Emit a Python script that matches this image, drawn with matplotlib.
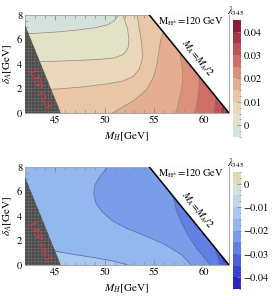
import numpy as np
import matplotlib.pyplot as plt
from matplotlib.colors import ListedColormap, BoundaryNorm
from matplotlib.cm import ScalarMappable
from matplotlib.ticker import MultipleLocator, FuncFormatter

plt.rcParams['font.family'] = 'STIXGeneral'
plt.rcParams['mathtext.fontset'] = 'stix'
plt.rcParams['hatch.linewidth'] = 0.4

# plot range and the two kinematic boundaries
mh_min, mh_max = 42, 62.5
delta_max = 8
m_z = 91.19          # LEP: M_H + M_A < M_Z excluded
m_h_half = 62.5      # M_A = M_h / 2

# ---------------- top panel: lambda_345 > 0 ----------------
top_bounds = [-0.005, 0, 0.005, 0.01, 0.015, 0.02, 0.025, 0.03, 0.035, 0.04, 0.045]
top_colors = ['#d3e3dc', '#e2e2c9', '#e9d8b9', '#e9c6a6', '#e4ae90',
              '#dc9178', '#d07064', '#c05154', '#a93444', '#8d1b35']
top_ticks = [0, 0.01, 0.02, 0.03, 0.04]

# contour curves (M_H, delta_A), one per level
top_c000_m = [41.5, 43, 45, 47, 49, 50.3, 51.0, 51.3, 51.4]
top_c000_d = [6.45, 6.5, 6.6, 6.75, 6.95, 7.2, 7.55, 7.9, 8.5]
top_c005_m = [41.5, 44, 47, 49.5, 51, 51.9, 52.35, 52.45, 52.3, 52.0, 51.7]
top_c005_d = [4.15, 4.2, 4.28, 4.38, 4.5, 4.8, 5.3, 6.0, 6.9, 7.6, 8.5]
top_c010_m = [44, 46, 48, 50, 51.8, 52.9, 53.5, 53.8, 53.75, 53.55, 53.35, 53.2]
top_c010_d = [1.9, 2.0, 2.15, 2.35, 2.6, 3.0, 3.6, 4.5, 5.5, 6.6, 7.6, 8.5]
top_c015_m = [50.2, 51.5, 53, 54.2, 54.9, 55.25, 55.45, 55.65, 56.3]
top_c015_d = [-0.3, 0.35, 1.05, 1.9, 2.9, 3.9, 5.0, 6.0, 7.5]
top_c020_m = [57.1, 57.4, 57.7, 57.85, 57.8, 57.6, 57.8]
top_c020_d = [-0.3, 0.8, 1.8, 2.8, 3.7, 4.6, 5.5]
top_c025_m = [59.0, 59.25, 59.45, 59.5, 59.45, 59.6]
top_c025_d = [-0.3, 0.8, 1.8, 2.6, 3.1, 3.8]
top_c030_m = [60.85, 61.0, 61.1, 61.1, 61.3]
top_c030_d = [-0.3, 0.5, 1.1, 1.45, 2.2]
top_c035_m = [61.55, 61.7, 61.78, 61.9]
top_c035_d = [-0.3, 0.4, 0.75, 1.5]
top_c040_m = [62.0, 62.1, 62.15, 62.3]
top_c040_d = [-0.3, 0.2, 0.35, 1.0]

# ---------------- bottom panel: lambda_345 < 0 ----------------
bot_bounds = [-0.045, -0.04, -0.035, -0.03, -0.025, -0.02, -0.015, -0.01, -0.005, 0, 0.005]
bot_colors = ['#2a24c6', '#3a40d2', '#4c5edb', '#6280e4', '#7a9de9',
              '#93b8ef', '#a7caee', '#bcd9eb', '#d1e3da', '#e2d8b6']
bot_ticks = [-0.04, -0.03, -0.02, -0.01, 0]

bot_c015_m = [44.5, 45.2, 47, 49, 51, 53.6]
bot_c015_d = [1.5, 1.1, 0.85, 0.6, 0.3, -0.3]
bot_c020_m = [50.7, 50.2, 49.5, 49.0, 48.9, 49.15, 49.8, 50.8, 52.2, 54, 56, 57.8, 59.0]
bot_c020_d = [8.5, 7.9, 7.2, 6.5, 5.8, 5.0, 4.3, 3.6, 3.0, 2.4, 1.7, 0.8, -0.3]
bot_c025_m = [56.5, 56.9, 57.2, 57.7, 58.4, 59.3, 60.2, 60.9]
bot_c025_d = [6.5, 5.5, 4.5, 3.5, 2.4, 1.3, 0.4, -0.3]
bot_c030_m = [60.9, 61.2, 61.5, 61.7]
bot_c030_d = [1.9, 1.0, 0.3, -0.3]
bot_c035_m = [61.6, 61.85, 62.05]
bot_c035_d = [1.1, 0.4, -0.3]
bot_c040_m = [62.1, 62.25, 62.35]
bot_c040_d = [0.6, 0.15, -0.3]

# corners closing a contour towards the bottom-right / top-left
close_low_right = [(70, 9), (70, -1), (41, -1)]
close_right = [(70, -1), (70, 9)]
close_left = [(41, -1), (41, 1.5)]

top_fills = [(top_c000_m, top_c000_d, top_colors[1], close_low_right),
             (top_c005_m, top_c005_d, top_colors[2], close_low_right),
             (top_c010_m, top_c010_d, top_colors[3], close_low_right),
             (top_c015_m, top_c015_d, top_colors[4], close_low_right),
             (top_c020_m, top_c020_d, top_colors[5], close_low_right),
             (top_c025_m, top_c025_d, top_colors[6], close_low_right),
             (top_c030_m, top_c030_d, top_colors[7], close_low_right),
             (top_c035_m, top_c035_d, top_colors[8], close_low_right),
             (top_c040_m, top_c040_d, top_colors[9], close_low_right)]

bot_fills = [(bot_c015_m, bot_c015_d, bot_colors[6], close_left),
             (bot_c020_m, bot_c020_d, bot_colors[4], close_right),
             (bot_c025_m, bot_c025_d, bot_colors[3], close_right),
             (bot_c030_m, bot_c030_d, bot_colors[2], close_right),
             (bot_c035_m, bot_c035_d, bot_colors[1], close_right),
             (bot_c040_m, bot_c040_d, bot_colors[0], close_right)]


def draw_panel(ax, base_color, fills, line_color):
    # background band
    ax.fill([41, 70, 70, 41], [-1, -1, 9, 9], color=base_color, lw=0, zorder=1)
    for m, d, col, corners in fills:
        xs = list(m) + [c[0] for c in corners]
        ys = list(d) + [c[1] for c in corners]
        ax.fill(xs, ys, color=col, lw=0, zorder=1)
    for m, d, col, corners in fills:
        ax.plot(m, d, color=line_color, lw=0.5, zorder=2)

    # region with M_A > M_h/2 left blank
    ax.fill([m_h_half - 9, m_h_half + 1, 70, 70, m_h_half - 9], [9, -1, -1, 10, 10],
            color='white', lw=0, zorder=3)
    mh_line = np.array([m_h_half - delta_max, m_h_half])
    ax.plot(mh_line, m_h_half - mh_line, color='black', lw=1.1, zorder=4)

    # LEP excluded triangle
    ax.fill([mh_min, m_z / 2, mh_min], [0, 0, m_z - 2 * mh_min],
            facecolor='#4b4b4b', edgecolor='#6e6e6e', hatch='+++++', lw=0, zorder=4)
    ax.text(43.55, 1.9, 'LEP excl.', color='#f0343c', fontsize=8, rotation=-67,
            ha='center', va='center', rotation_mode='anchor', zorder=5)

    ax.text(58.7, 7.5, r'M$_{\mathrm{H^{\pm}}}$=120 GeV', fontsize=7.5,
            ha='center', va='center', zorder=5)
    ax.text(59.3, 4.5, r'$M_A\!=\!M_h/2$', fontsize=7.5, rotation=-50.8,
            ha='center', va='center', rotation_mode='anchor', zorder=5)

    ax.set_xlim(mh_min, mh_max)
    ax.set_ylim(0, delta_max)
    ax.set_xticks([45, 50, 55, 60])
    ax.set_yticks([0, 2, 4, 6, 8])
    ax.xaxis.set_minor_locator(MultipleLocator(1))
    ax.yaxis.set_minor_locator(MultipleLocator(0.5))
    ax.tick_params(which='both', direction='in', top=True, right=True,
                   color='#888888', labelsize=7.5, pad=2)
    ax.tick_params(which='major', length=3.5, width=0.6)
    ax.tick_params(which='minor', length=2, width=0.5)
    for s in ax.spines.values():
        s.set_color('#aaaaaa')
        s.set_linewidth(0.8)


def draw_cbar(fig, cax, bounds, colors, ticks):
    cmap = ListedColormap(colors)
    norm = BoundaryNorm(bounds, cmap.N)
    sm = ScalarMappable(norm=norm, cmap=cmap)
    cb = fig.colorbar(sm, cax=cax, ticks=ticks)
    cb.outline.set_visible(False)
    cax.yaxis.set_major_formatter(FuncFormatter(
        lambda v, p: '0' if abs(v) < 1e-9 else ('%g' % v).replace('-', '\u2212')))
    cax.yaxis.set_minor_locator(MultipleLocator(0.0025))
    cax.tick_params(which='both', direction='in', color='#888888', labelsize=7.5, pad=2)
    cax.tick_params(which='major', length=3, width=0.6)
    cax.tick_params(which='minor', length=1.5, width=0.5)


fig = plt.figure(figsize=(2.74, 3.04), dpi=100)
W, H = 274, 304

ax1 = fig.add_axes([25 / W, 1 - 113 / H, 204 / W, 98 / H])
ax2 = fig.add_axes([25 / W, 1 - 265 / H, 204 / W, 98 / H])
cax1 = fig.add_axes([233 / W, 1 - 137 / H, 8 / W, 117 / H])
cax2 = fig.add_axes([233 / W, 1 - 289 / H, 8 / W, 117 / H])

draw_panel(ax1, top_colors[0], top_fills, '#9a8878')
draw_panel(ax2, bot_colors[5], bot_fills, '#5068a8')
draw_cbar(fig, cax1, top_bounds, top_colors, top_ticks)
draw_cbar(fig, cax2, bot_bounds, bot_colors, bot_ticks)

for ytop in (0, 152):
    fig.text(127 / W, 1 - (ytop + 137) / H, r'$M_H$[GeV]', fontsize=8, ha='center', va='center')
    fig.text(8 / W, 1 - (ytop + 64) / H, r'$\delta_A$[GeV]', fontsize=8, rotation=90,
             ha='center', va='center')
    fig.text(236 / W, 1 - (ytop + 11.5) / H, r'$\lambda_{345}$', fontsize=7.5,
             ha='center', va='center')

fig.savefig('out.png', dpi=100)
